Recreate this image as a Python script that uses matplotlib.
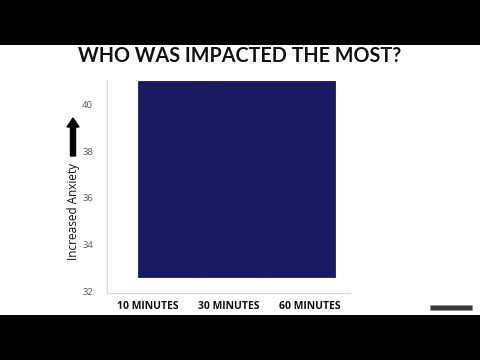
import matplotlib
matplotlib.use("Agg")
import matplotlib.pyplot as plt
from matplotlib.patches import Rectangle, FancyArrow

categories = ["10 MINUTES", "30 MINUTES", "60 MINUTES"]
values = [41, 41, 41]
bar_base = 32.6
yticks = [32, 34, 36, 38, 40]

NAVY, GRID, TICK = "#1a1a60", "#d9d9d9", "#595959"

fig = plt.figure(figsize=(4.8, 3.6), dpi=100)
fig.patch.set_facecolor("white")
# letterbox bands
fig.add_artist(Rectangle((0, 1 - 45 / 360), 1, 45 / 360, transform=fig.transFigure,
                         facecolor="black", edgecolor="none"))
fig.add_artist(Rectangle((0, 0), 1, 45 / 360, transform=fig.transFigure,
                         facecolor="black", edgecolor="none"))

fig.text(0.5, 1 - 56 / 360, "WHO WAS IMPACTED THE MOST?", ha="center", va="center",
         fontsize=14.2, fontweight="bold", color="#111", family="Lato")

ax = fig.add_axes([107 / 480, 1 - 293 / 360, 243 / 480, 213 / 360])
w = 0.813
xs = [-0.12 + i * w for i in range(len(categories))]
ax.bar(xs, [v - bar_base for v in values], bottom=bar_base, width=w, align="edge",
       color=NAVY, edgecolor=NAVY, linewidth=0.6)
ax.set_xlim(-0.5, 2.5)
ax.set_ylim(31.92, 41.05)
ax.set_xticks(range(len(categories)))
ax.set_xticklabels(categories, fontsize=7.5, fontweight="bold", color="#111", family="Open Sans")
ax.set_yticks(yticks)
ax.set_yticklabels([str(t) for t in yticks], fontsize=6.8, color=TICK, family="Open Sans")
ax.tick_params(length=0)
ax.tick_params(axis="y", pad=10)
ax.tick_params(axis="x", pad=6)
for s in ["top", "right"]:
    ax.spines[s].set_visible(False)
for s in ["left", "bottom"]:
    ax.spines[s].set_color(GRID)
    ax.spines[s].set_linewidth(0.8)

fig.text(73 / 480, 1 - 212 / 360, "Increased Anxiety", rotation=90, ha="center", va="center",
         fontsize=8.5, color="#111", family="Open Sans")
fig.add_artist(FancyArrow(73 / 480, 1 - 156 / 360, 0, 38 / 360,
                          width=5 / 480, head_width=12 / 480,
                          head_length=9 / 360, length_includes_head=True,
                          transform=fig.transFigure, color="black"))

# small watermark box, bottom right
fig.add_artist(Rectangle((430 / 480, 1 - 310 / 360), 42 / 480, 5 / 360,
                         transform=fig.transFigure, facecolor="#3a3a3a", edgecolor="#888",
                         linewidth=0.4))

fig.savefig("out.png", dpi=100)
